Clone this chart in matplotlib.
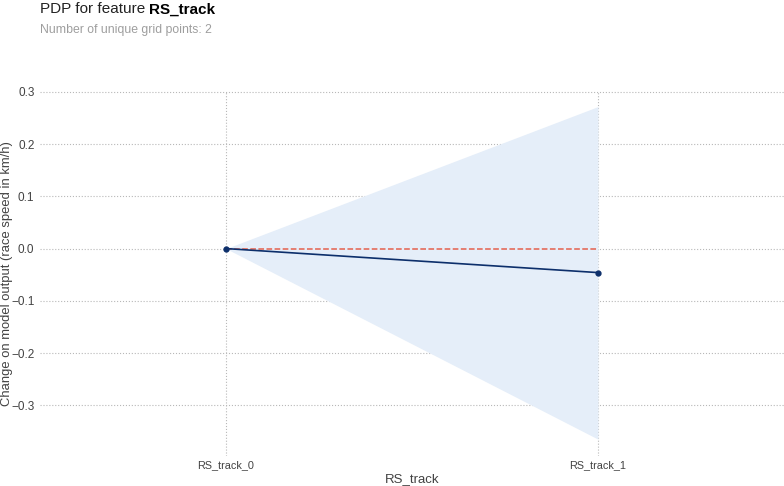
import numpy as np
import matplotlib.pyplot as plt

# data
grid_labels = ["RS_track_0", "RS_track_1"]
pdp_values = [0.0, -0.046]
pdp_upper = [0.0, 0.272]
pdp_lower = [0.0, -0.365]
y_ticks = [-0.3, -0.2, -0.1, 0.0, 0.1, 0.2, 0.3]

plt.rcParams['font.family'] = ['Liberation Sans', 'DejaVu Sans']

fig = plt.figure(figsize=(7.84, 4.86), dpi=100)
ax = fig.add_axes([0.051, 0.062, 0.949, 0.751])

x = np.arange(len(grid_labels))

# confidence band, zero line and pdp line
ax.fill_between(x, pdp_upper, pdp_lower, color='#e5eef9', linewidth=0, zorder=2)
ax.plot(x, [0] * len(x), linestyle='--', color='#e4604e', linewidth=1.1, zorder=3)
ax.plot(x, pdp_values, color='#0d2f6b', linewidth=1.2, marker='o', markersize=3.5, zorder=4)

ax.set_xlim(-0.5, len(x) - 0.5)
ax.set_ylim(-0.397, 0.302)
ax.set_xticks(x)
ax.set_xticklabels(grid_labels)
ax.set_yticks(y_ticks)
ax.set_yticklabels([f"{v:.1f}".replace('-', '\u2212') for v in y_ticks])

ax.tick_params(axis='both', which='both', length=0, labelsize=8.5, labelcolor='#424242', pad=4)
ax.tick_params(axis='x', labelsize=7.8, pad=3)
ax.grid(True, linestyle=':', color='#b8b8b8', linewidth=0.8, zorder=1)
ax.set_axisbelow(True)
for s in ax.spines.values():
    s.set_visible(False)

ax.set_xlabel('RS_track', fontsize=9.5, color='#424242', va='center')
ax.xaxis.set_label_coords(0.5, -0.063)
ax.set_ylabel('Change on model output (race speed in km/h)', fontsize=9.4, color='#424242', va='center')
ax.yaxis.set_label_coords(-0.044, 0.5)

# title and subtitle
title = fig.text(0.051, 0.981, 'PDP for feature ', fontsize=11, color='#222222', va='center')
fig.canvas.draw()
bb = title.get_window_extent().transformed(fig.transFigure.inverted())
fig.text(bb.x1, 0.981, 'RS_track', fontsize=11, color='black', fontweight='bold', va='center')
fig.text(0.051, 0.938, 'Number of unique grid points: 2', fontsize=8.8, color='#9e9e9e', va='center')

fig.savefig('out.png', dpi=100)
